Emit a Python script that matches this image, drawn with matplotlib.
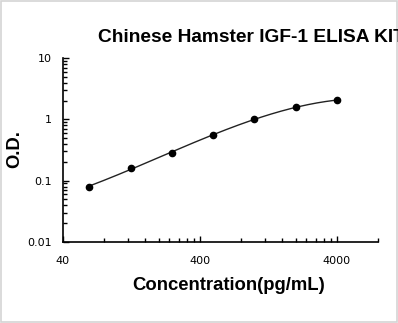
import numpy as np
import matplotlib
matplotlib.use("Agg")
import matplotlib.pyplot as plt
from matplotlib.patches import Rectangle
from matplotlib.ticker import FixedLocator, FixedFormatter

# standard curve data
conc = [62.5, 125, 250, 500, 1000, 2000, 4000]
od = [0.080, 0.163, 0.283, 0.551, 1.01, 1.61, 2.04]

x_ticks = [40, 400, 4000]
x_ticklabels = ["40", "400", "4000"]
y_ticks = [0.01, 0.1, 1, 10]
y_ticklabels = ["0.01", "0.1", "1", "10"]

fig = plt.figure(figsize=(3.98, 3.23), dpi=100)
ax = fig.add_axes([0.158, 0.251, 0.792, 0.569])

# smooth curve fitted in log-log space
lx = np.log10(conc)
ly = np.log10(od)
coef = np.polyfit(lx, ly, 3)
xs = np.linspace(lx[0], lx[-1], 200)
ax.plot(10**xs, 10**np.polyval(coef, xs), color="#222222", linewidth=1)
ax.plot(conc, od, "o", color="black", markersize=4.5)

ax.set_xscale("log")
ax.set_yscale("log")
ax.set_xlim(40, 8000)
ax.set_ylim(0.01, 10)

minor_x = [m * d for d in [40, 400, 4000] for m in range(2, 10) if m * d <= 8000]
ax.xaxis.set_major_locator(FixedLocator(x_ticks))
ax.xaxis.set_major_formatter(FixedFormatter(x_ticklabels))
ax.xaxis.set_minor_locator(FixedLocator(minor_x))
ax.xaxis.set_minor_formatter(FixedFormatter([]))
ax.yaxis.set_major_locator(FixedLocator(y_ticks))
ax.yaxis.set_major_formatter(FixedFormatter(y_ticklabels))
minor_y = [m * d for d in [0.01, 0.1, 1] for m in range(2, 10)]
ax.yaxis.set_minor_locator(FixedLocator(minor_y))
ax.yaxis.set_minor_formatter(FixedFormatter([]))

ax.spines["top"].set_visible(False)
ax.spines["right"].set_visible(False)
ax.spines["left"].set_linewidth(1.2)
ax.spines["bottom"].set_linewidth(1.2)
ax.tick_params(which="major", direction="in", length=4, width=1, labelsize=8, colors="black")
ax.tick_params(which="minor", direction="in", length=3, width=1)
ax.tick_params(axis="x", which="major", pad=10)
ax.tick_params(axis="y", which="major", pad=8)

bold = dict(family="Liberation Sans", weight="bold", fontsize=13.3)
fig.text(98 / 398, 1 - 38 / 323, "Chinese Hamster IGF-1 ELISA KIT", ha="left", va="center",
         family="Liberation Sans", weight="bold", fontsize=13.8)
fig.text(0.5 * (132 + 325) / 398, 1 - 285 / 323, "Concentration(pg/mL)", ha="center", va="center", **bold)
fig.text(15 / 398, 1 - 149 / 323, "O.D.", rotation=90, ha="center", va="center", **bold)

fig.patches.append(Rectangle((0.003, 0.003), 0.994, 0.994, transform=fig.transFigure,
                             fill=False, edgecolor="#d4d4d4", linewidth=1.2))

fig.savefig("out.png", dpi=100)
